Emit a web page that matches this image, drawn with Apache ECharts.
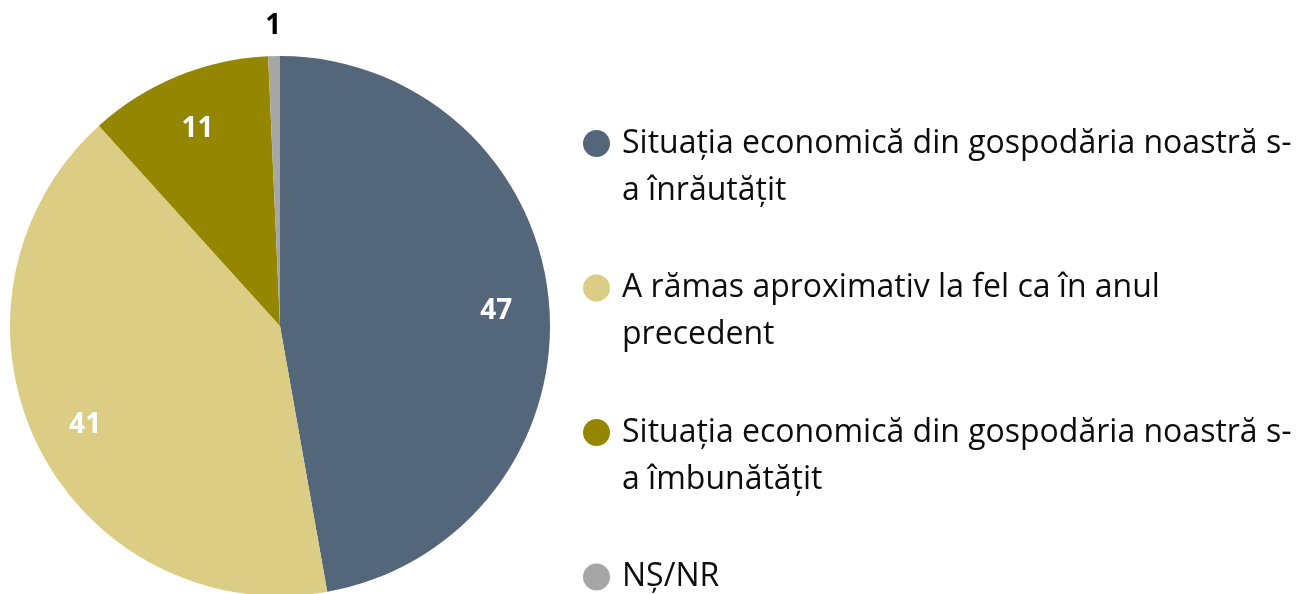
<!DOCTYPE html>
<html>
<head>
<meta charset="utf-8">
<script src="https://cdn.jsdelivr.net/npm/echarts@6/dist/echarts.min.js"></script>
<style>
  html, body { margin: 0; padding: 0; background: #fff; }
  #chart { width: 1306px; height: 594px; }
</style>
</head>
<body>
<div id="chart"></div>
<script>
const categories = [
  'Situația economică din gospodăria noastră s-a înrăutățit',
  'A rămas aproximativ la fel ca în anul precedent',
  'Situația economică din gospodăria noastră s-a îmbunătățit',
  'NȘ/NR'
]
const legendLabels = [
  'Situația economică din gospodăria noastră s-\na înrăutățit',
  'A rămas aproximativ la fel ca în anul\nprecedent',
  'Situația economică din gospodăria noastră s-\na îmbunătățit',
  'NȘ/NR\n '
]
const values = [47.2, 41.1, 11.0, 0.7]
const colors = ['#546679', '#dbcd84', '#958600', '#a6a6a6']

const FONT = '"Open Sans", sans-serif'
const center = [280, 326]
// label rings sit a few px lower so the digits line up with the reference baseline
const labelCenter = [280, 330]
// circle at the top of a 27x74 box so it lines up with the first text line
const topCircle = 'path://M0 13.5A13.5 13.5 0 1 1 27 13.5A13.5 13.5 0 1 1 0 13.5ZM0 74'

const chart = echarts.init(document.getElementById('chart'))

const option = {
  animation: false,
  textStyle: { fontFamily: FONT },
  legend: {
    orient: 'vertical',
    left: 578,
    top: 115,
    height: 560,
    itemWidth: 27,
    itemHeight: 74,
    itemGap: 50.5,
    icon: topCircle,
    selectedMode: false,
    data: categories,
    formatter: name => legendLabels[categories.indexOf(name)],
    textStyle: {
      fontFamily: FONT,
      fontSize: 32,
      lineHeight: 47,
      color: '#0d0d0d',
      padding: [0, 0, 0, 7]
    }
  },
  series: [
    {
      type: 'pie',
      center: center,
      radius: [0, 270],
      startAngle: 90,
      clockwise: true,
      silent: true,
      label: { show: false },
      labelLine: { show: false },
      data: categories.map((name, i) => ({
        name: name,
        value: values[i],
        itemStyle: { color: colors[i] }
      }))
    },
    {
      // ring used only to place the inner value labels
      type: 'pie',
      center: labelCenter,
      radius: [158, 270],
      startAngle: 90,
      silent: true,
      itemStyle: { color: 'rgba(0,0,0,0)' },
      labelLine: { show: false },
      label: {
        show: true,
        position: 'inside',
        color: '#fff',
        fontFamily: FONT,
        fontWeight: 'bold',
        fontSize: 28,
        formatter: p => p.dataIndex < 3 ? String(Math.round(p.value)) : ''
      },
      data: categories.map((name, i) => ({ name: name, value: values[i] }))
    },
    {
      // ring outside the pie for the small slice label
      type: 'pie',
      center: labelCenter,
      radius: [290, 312],
      startAngle: 90,
      silent: true,
      itemStyle: { color: 'rgba(0,0,0,0)' },
      labelLine: { show: false },
      label: {
        show: true,
        position: 'inside',
        color: '#000',
        fontFamily: FONT,
        fontWeight: 'bold',
        fontSize: 28,
        formatter: p => p.dataIndex === 3 ? String(Math.round(p.value)) : ''
      },
      data: categories.map((name, i) => ({ name: name, value: values[i] }))
    }
  ]
}

chart.setOption(option)
window.onresize = chart.resize
</script>
</body>
</html>
